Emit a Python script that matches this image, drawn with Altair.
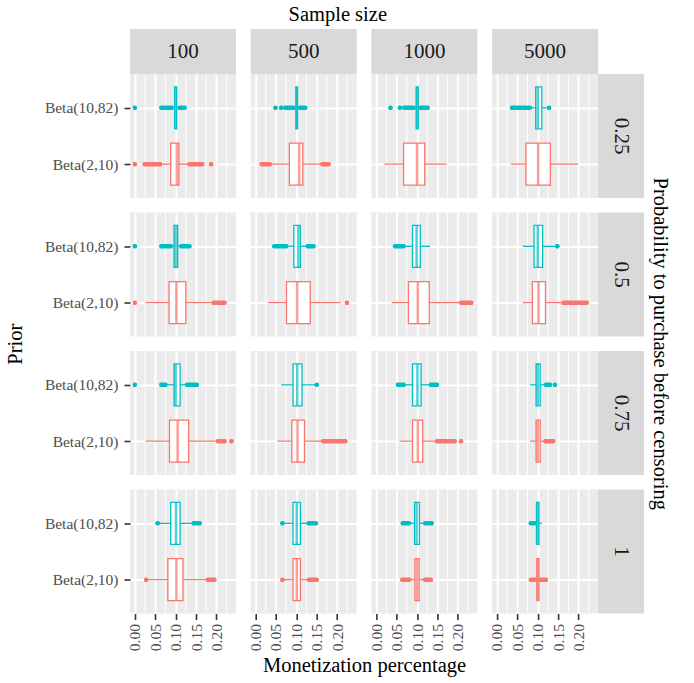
import altair as alt
import pandas as pd

FONT = "Liberation Serif, Times New Roman, serif"

probs = ["0.25", "0.5", "0.75", "1"]
sizes = ["100", "500", "1000", "5000"]
priors = ["Beta(10,82)", "Beta(2,10)"]
prior_colors = ["#00BFC4", "#F8766D"]

major_ticks = [0.0, 0.05, 0.10, 0.15, 0.20]
minor_ticks = [0.025, 0.075, 0.125, 0.175, 0.225]
x_domain = [-0.0118, 0.248]

# Box statistics, one line per probability row; within a line the values
# run over sample sizes 100, 500, 1000, 5000 as (Beta(10,82), Beta(2,10)) pairs.
q1 = [
    0.0975, 0.088, 0.099, 0.083, 0.098, 0.067, 0.095, 0.071,
    0.096, 0.084, 0.094, 0.076, 0.089, 0.079, 0.091, 0.087,
    0.096, 0.085, 0.092, 0.089, 0.089, 0.089, 0.096, 0.096,
    0.088, 0.081, 0.092, 0.092, 0.094, 0.095, 0.097, 0.098,
]
median = [
    0.100, 0.103, 0.101, 0.107, 0.100, 0.100, 0.100, 0.101,
    0.100, 0.102, 0.105, 0.102, 0.099, 0.102, 0.100, 0.102,
    0.100, 0.105, 0.102, 0.103, 0.101, 0.102, 0.100, 0.100,
    0.101, 0.102, 0.101, 0.101, 0.099, 0.100, 0.100, 0.100,
]
q3 = [
    0.1025, 0.108, 0.103, 0.116, 0.103, 0.119, 0.110, 0.131,
    0.105, 0.125, 0.110, 0.134, 0.108, 0.130, 0.112, 0.119,
    0.111, 0.132, 0.114, 0.120, 0.110, 0.114, 0.106, 0.106,
    0.111, 0.118, 0.110, 0.110, 0.106, 0.105, 0.103, 0.103,
]
whisker_lo = [
    0.092, 0.065, 0.095, 0.037, 0.094, 0.020, 0.083, 0.034,
    0.090, 0.027, 0.077, 0.031, 0.069, 0.038, 0.063, 0.063,
    0.077, 0.027, 0.063, 0.053, 0.069, 0.057, 0.081, 0.081,
    0.058, 0.030, 0.068, 0.068, 0.082, 0.083, 0.094, 0.095,
]
whisker_hi = [
    0.108, 0.132, 0.107, 0.162, 0.107, 0.172, 0.122, 0.199,
    0.112, 0.190, 0.126, 0.209, 0.132, 0.203, 0.144, 0.161,
    0.126, 0.202, 0.146, 0.164, 0.131, 0.147, 0.117, 0.117,
    0.142, 0.177, 0.128, 0.129, 0.118, 0.118, 0.110, 0.106,
]

# Outliers, as runs of overlapping points: box index (row-major as above), start, end
out_box = [
    0, 0, 0, 1, 1, 1, 1, 2, 2, 2, 2, 3, 3, 4, 4, 4, 4, 6, 6,
    8, 8, 8, 9, 9, 10, 10, 11, 12, 13, 14, 15,
    16, 16, 16, 17, 17, 18, 19, 20, 20, 21, 21, 22, 22, 23,
    24, 24, 25, 25, 26, 26, 27, 27, 28, 28, 29, 29, 30, 31, 31,
]
out_start = [
    0.000, 0.065, 0.110, 0.000, 0.024, 0.134, 0.187, 0.049, 0.063, 0.073, 0.109,
    0.015, 0.164, 0.035, 0.058, 0.069, 0.109, 0.037, 0.128,
    0.000, 0.065, 0.114, 0.000, 0.193, 0.046, 0.128, 0.224, 0.046, 0.208, 0.148, 0.163,
    0.000, 0.065, 0.128, 0.204, 0.237, 0.150, 0.166, 0.053, 0.134, 0.149, 0.208,
    0.120, 0.142, 0.119,
    0.056, 0.144, 0.028, 0.179, 0.066, 0.130, 0.066, 0.131, 0.065, 0.120, 0.064, 0.120,
    0.083, 0.083, 0.107,
]
out_end = [
    0.000, 0.090, 0.122, 0.000, 0.062, 0.165, 0.187, 0.049, 0.063, 0.093, 0.122,
    0.035, 0.179, 0.035, 0.058, 0.092, 0.126, 0.081, 0.128,
    0.000, 0.088, 0.134, 0.000, 0.220, 0.075, 0.142, 0.224, 0.067, 0.233, 0.148, 0.220,
    0.000, 0.075, 0.152, 0.220, 0.237, 0.150, 0.220, 0.067, 0.149, 0.192, 0.208,
    0.130, 0.142, 0.138,
    0.056, 0.159, 0.028, 0.195, 0.066, 0.148, 0.066, 0.150, 0.080, 0.136, 0.081, 0.134,
    0.093, 0.093, 0.120,
]

keys = [(p, s, pr) for p in probs for s in sizes for pr in priors]
box_df = pd.DataFrame({
    "prob": [k[0] for k in keys],
    "size": [k[1] for k in keys],
    "prior": [k[2] for k in keys],
    "q1": q1, "median": median, "q3": q3,
    "lo": whisker_lo, "hi": whisker_hi,
})
out_df = pd.DataFrame({
    "prob": [keys[i][0] for i in out_box],
    "size": [keys[i][1] for i in out_box],
    "prior": [keys[i][2] for i in out_box],
    "start": out_start, "end": out_end,
})

# panel geometry (pixels)
PANEL_W, PANEL_H = 106, 124
STRIP = 45
COL_GAP, ROW_GAP = 14.7, 14.5
BOX = 42
GRID_W = 4 * PANEL_W + 3 * COL_GAP
GRID_H = 4 * PANEL_H + 3 * ROW_GAP

TITLE_SIZE = 20.5
STRIP_FILL, STRIP_TEXT = "#D9D9D9", "#1A1A1A"

x_scale = alt.Scale(domain=x_domain, nice=False, zero=False)
y_scale = alt.Scale(type="point", domain=priors, padding=0.6)
col_scale = alt.Scale(domain=priors, range=prior_colors)


def top_strip(label):
    d = alt.Chart(pd.DataFrame({"t": [label]}))
    bg = d.mark_rect(color=STRIP_FILL).encode(
        x=alt.value(0), x2=alt.value(PANEL_W), y=alt.value(-STRIP), y2=alt.value(0))
    tx = d.mark_text(font=FONT, fontSize=21, color=STRIP_TEXT, align="center",
                     baseline="middle").encode(
        text="t:N", x=alt.value(PANEL_W / 2), y=alt.value(-STRIP / 2))
    return [bg, tx]


def right_strip(label):
    d = alt.Chart(pd.DataFrame({"t": [label]}))
    bg = d.mark_rect(color=STRIP_FILL).encode(
        x=alt.value(PANEL_W), x2=alt.value(PANEL_W + 46), y=alt.value(0),
        y2=alt.value(PANEL_H))
    tx = d.mark_text(font=FONT, fontSize=21, color=STRIP_TEXT, align="center",
                     baseline="middle", angle=90).encode(
        text="t:N", x=alt.value(PANEL_W + 23), y=alt.value(PANEL_H / 2))
    return [bg, tx]


def panel(pi, si):
    p, s = probs[pi], sizes[si]
    first_col, last_col = si == 0, si == len(sizes) - 1
    first_row, last_row = pi == 0, pi == len(probs) - 1
    boxes = box_df[(box_df["prob"] == p) & (box_df["size"] == s)]
    outs = out_df[(out_df["prob"] == p) & (out_df["size"] == s)]

    x_kw = dict(values=major_ticks, format=".2f", grid=True, gridColor="white",
                gridWidth=2, domain=False, labels=last_row, ticks=last_row,
                labelAngle=270, labelOverlap=False, labelFlush=False, labelPadding=4)
    if last_row and first_col:
        x_kw.update(title="Monetization percentage", titleX=GRID_W / 2,
                    titlePadding=5)
    else:
        x_kw.update(title=None)
    x_axis = alt.Axis(**x_kw)

    y_kw = dict(grid=True, gridColor="white", gridWidth=2, domain=False,
                labels=first_col, ticks=first_col, labelPadding=6)
    if first_row and first_col:
        y_kw.update(title="Prior", titleY=GRID_H / 2, titlePadding=19)
    else:
        y_kw.update(title=None)
    y_axis = alt.Axis(**y_kw)

    def X(field):
        return alt.X(f"{field}:Q", scale=x_scale, axis=x_axis)

    Y = alt.Y("prior:N", scale=y_scale, axis=y_axis)
    col = alt.Color("prior:N", scale=col_scale, legend=None)
    stroke = alt.Stroke("prior:N", scale=col_scale, legend=None)

    minor = alt.Chart(pd.DataFrame({"v": minor_ticks})).mark_rule(
        color="white", strokeWidth=1).encode(x=X("v"))
    base = alt.Chart(boxes)
    whisk = base.mark_rule(strokeWidth=1.3).encode(x=X("lo"), x2="hi", y=Y, color=col)
    runs = alt.Chart(outs).mark_rule(strokeWidth=4.5, strokeCap="round").encode(
        x=X("start"), x2="end", y=Y, color=col)
    dots_a = alt.Chart(outs).mark_circle(size=16, opacity=1).encode(
        x=X("start"), y=Y, color=col)
    dots_b = alt.Chart(outs).mark_circle(size=16, opacity=1).encode(
        x=X("end"), y=Y, color=col)
    box = base.mark_bar(fill="white", strokeWidth=1.3, size=BOX).encode(
        x=X("q1"), x2="q3", y=Y, stroke=stroke)
    med = base.mark_tick(orient="vertical", size=BOX, thickness=2.5).encode(
        x=X("median"), y=Y, color=col)

    layers = [minor, whisk, runs, dots_a, dots_b, box, med]
    if first_row:
        layers += top_strip(s)
    if last_col:
        layers += right_strip(p)
        if first_row:
            layers.append(
                alt.Chart(pd.DataFrame({"t": ["Probability to purchase before censoring"]}))
                .mark_text(font=FONT, fontSize=TITLE_SIZE, color="black", angle=90,
                           align="center", baseline="middle")
                .encode(text="t:N", x=alt.value(PANEL_W + 46 + 16),
                        y=alt.value(GRID_H / 2)))

    return alt.layer(*layers).properties(
        width=PANEL_W, height=PANEL_H,
        view=alt.ViewBackground(fill="#EBEBEB", strokeWidth=0))


panels = [panel(pi, si) for pi in range(len(probs)) for si in range(len(sizes))]

chart = alt.concat(
    *panels, columns=len(sizes), spacing={"row": ROW_GAP, "column": COL_GAP},
    bounds="flush",
).properties(
    title=alt.TitleParams(text="Sample size", anchor="middle", offset=4, font=FONT,
                          fontSize=TITLE_SIZE, fontWeight="normal", color="black"),
    padding={"left": 5, "top": 4, "right": 5, "bottom": 5},
    background="white",
).configure_axis(
    labelFont=FONT, labelFontSize=15.5, labelColor="#4D4D4D",
    titleFont=FONT, titleFontSize=TITLE_SIZE, titleFontWeight="normal", titleColor="black",
    tickColor="#333333", tickWidth=1.6, tickSize=6,
).configure_view(strokeWidth=0)

chart.save("out.html", embed_options={"renderer": "svg", "actions": False})
